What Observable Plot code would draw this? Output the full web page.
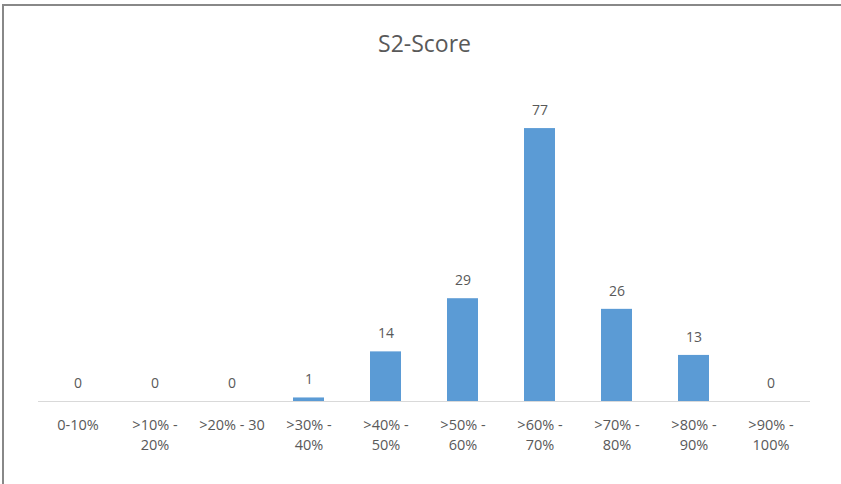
<!DOCTYPE html>
<html>
<head>
<meta charset="utf-8">
<script src="https://cdn.jsdelivr.net/npm/d3@7"></script>
<script src="https://cdn.jsdelivr.net/npm/@observablehq/plot@0.6"></script>
<style>
  html, body { margin: 0; padding: 0; background: #fff; }
  #wrap { position: relative; width: 841px; height: 484px; }
  #frame { position: absolute; left: 2px; top: 4px; right: 0; bottom: 0; border-left: 2px solid #888; border-top: 2px solid #888; pointer-events: none; }
</style>
</head>
<body>
<div id="wrap"><div id="frame"></div></div>
<script>
const title = "S2-Score";
const categories = ["0-10%", ">10% - 20%", ">20% - 30", ">30% - 40%", ">40% - 50%", ">50% - 60%", ">60% - 70%", ">70% - 80%", ">80% - 90%", ">90% - 100%"];
const tickLabels = ["0-10%", ">10% -\n20%", ">20% - 30", ">30% -\n40%", ">40% -\n50%", ">50% -\n60%", ">60% -\n70%", ">70% -\n80%", ">80% -\n90%", ">90% -\n100%"];
const values = [0, 0, 0, 1, 14, 29, 77, 26, 13, 0];

const data = categories.map((c, i) => ({cat: c, value: values[i], tick: tickLabels[i]}));
const font = "'Open Sans', 'DejaVu Sans', sans-serif";
const textColor = "#595959";

const chart = Plot.plot({
  width: 841,
  height: 484,
  marginLeft: 38,
  marginRight: 31,
  marginTop: 82,
  marginBottom: 83,
  style: {fontFamily: font, background: "transparent"},
  x: {domain: categories, paddingInner: 0.6, paddingOuter: 0.3, axis: null},
  y: {domain: [0, 90], axis: null},
  marks: [
    Plot.barY(data, {x: "cat", y: "value", fill: "#5B9BD5"}),
    Plot.ruleY([0], {stroke: "#d9d9d9", strokeWidth: 1}),
    Plot.text(data, {x: "cat", y: "value", text: d => String(d.value), dy: -18, fill: textColor, fontSize: 14, lineAnchor: "middle"}),
    Plot.text(data, {x: "cat", text: "tick", frameAnchor: "bottom", lineAnchor: "top", dy: 14, lineHeight: 1.4, fill: textColor, fontSize: 14.5}),
    Plot.text([title], {frameAnchor: "top", dy: -38, text: d => d, fontSize: 23, fill: textColor, lineAnchor: "middle"})
  ]
});
document.getElementById("wrap").prepend(chart);
</script>
</body>
</html>
